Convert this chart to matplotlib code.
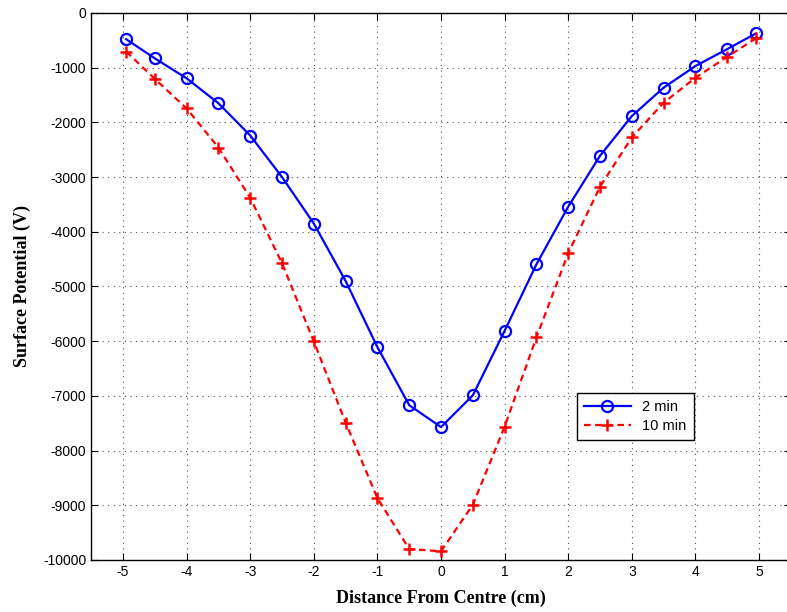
#!/usr/bin/env python3

import matplotlib as mpl
mpl.use("Agg")
import matplotlib.pyplot as plt

# surface potential profiles across the sample
distance = [-4.95, -4.5, -4, -3.5, -3, -2.5, -2, -1.5, -1, -0.5, 0,
            0.5, 1, 1.5, 2, 2.5, 3, 3.5, 4, 4.5, 4.95]
potential_2min = [-480, -830, -1195, -1650, -2240, -3000, -3850, -4900, -6110, -7170, -7570,
                  -6990, -5810, -4595, -3540, -2610, -1885, -1365, -970, -660, -375]
potential_10min = [-705, -1205, -1745, -2460, -3380, -4575, -6005, -7490, -8870, -9800, -9840,
                   -8990, -7560, -5930, -4390, -3175, -2275, -1640, -1185, -800, -465]

x_ticks = [-5, -4, -3, -2, -1, 0, 1, 2, 3, 4, 5]
y_ticks = [0, -1000, -2000, -3000, -4000, -5000, -6000, -7000, -8000, -9000, -10000]


def main():
    plt.rcParams['axes.unicode_minus'] = False
    plt.rcParams['font.family'] = ['Liberation Sans', 'DejaVu Sans']

    fig = plt.figure(figsize=(7.87, 6.12), dpi=100)
    ax = fig.add_axes([0.1159, 0.085, 0.889, 0.8938])

    ax.plot(distance, potential_2min, color='#0000ff', linestyle='-', linewidth=1.6,
            marker='o', markersize=8, markerfacecolor='none', markeredgewidth=1.6,
            label='2 min')
    ax.plot(distance, potential_10min, color='#ff0000', linestyle='--', linewidth=1.6,
            dashes=(3, 2), marker='+', markersize=8, markeredgewidth=1.8,
            label='10 min')

    ax.set_xlim(-5.5, 5.5)
    ax.set_ylim(-10000, 0)
    ax.set_xticks(x_ticks)
    ax.set_yticks(y_ticks)
    ax.tick_params(direction='in', top=True, right=True, labelsize=10, length=5, width=0.8)
    ax.grid(True, linestyle=(0, (1, 4)), color='#555555', linewidth=0.8)
    for spine in ax.spines.values():
        spine.set_linewidth(1.0)

    label_font = dict(family='Liberation Serif', weight='bold', size=13)
    ax.set_xlabel("Distance From Centre (cm)", fontdict=label_font, labelpad=8)
    ax.set_ylabel("Surface Potential (V)", fontdict=label_font, labelpad=9)

    leg = ax.legend(loc='upper left', bbox_to_anchor=(0.694, 0.306), borderaxespad=0,
                    fontsize=10.5, fancybox=False, edgecolor='black', framealpha=1,
                    handlelength=3.2, borderpad=0.5, labelspacing=0.35)
    leg.get_frame().set_linewidth(1.0)

    fig.savefig("out.png", dpi=100)
    plt.close(fig)


if __name__ == "__main__":
    main()
